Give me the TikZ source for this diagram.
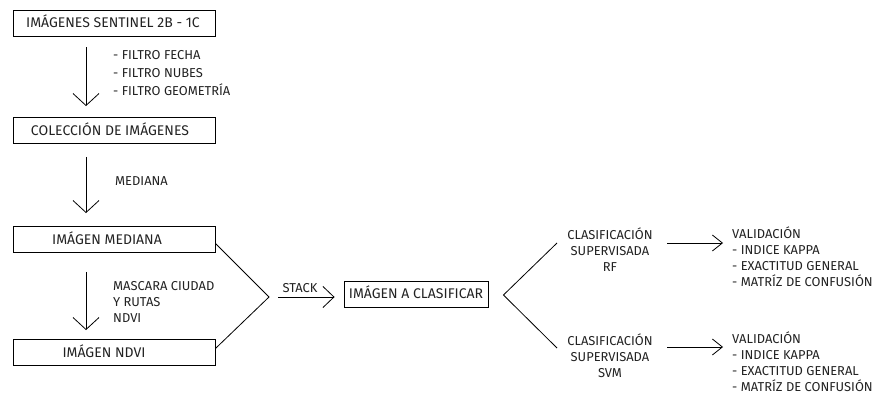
\documentclass[tikz,border=0pt]{standalone}
\usepackage{fontspec}
\setmainfont{Fira Sans}
\usetikzlibrary{arrows.meta}
\definecolor{txtc}{HTML}{222222}
\begin{document}
\begin{tikzpicture}[x=1pt,y=-1pt,
  box/.style={draw=black, line width=0.9pt, minimum width=202pt, minimum height=26pt, inner sep=0pt},
  box5/.style={draw=black, line width=0.9pt, minimum width=144pt, minimum height=26pt, inner sep=0pt},
  btxt/.style={font=\fontsize{14}{16}\selectfont, inner sep=0pt, text=txtc, text height=9.7pt, text depth=0pt},
  lbl/.style={font=\fontsize{12.9}{16}\selectfont, inner sep=0pt, text=txtc},
  ln/.style={line width=0.8pt, draw=black},
  arrv/.style={ln, -{Straight Barb[length=12pt,width=26pt]}},
  arrm/.style={ln, -{Straight Barb[length=11pt,width=21pt]}},
  arrs/.style={ln, -{Straight Barb[length=10pt,width=16pt]}}]
\useasboundingbox (0,0) rectangle (875,394);
% boxes
\node[box] (b1) at (114,23) {};
\node[btxt] (t1) at (113,23) {IMÁGENES SENTINEL 2B - 1C};
\node[box] (b2) at (114,130.5) {};
\node[btxt] (t2) at (110,130.5) {COLECCIÓN DE IMÁGENES};
\node[box] (b3) at (114,239.5) {};
\node[btxt] (t3) at (107,239.5) {IMÁGEN MEDIANA};
\node[box] (b4) at (114,352.5) {};
\node[btxt] (t4) at (104,352.5) {IMÁGEN NDVI};
\node[box5] (b5) at (416,294) {};
\node[btxt] (t5) at (416,294) {IMÁGEN A CLASIFICAR};
% labels
\node[lbl, align=left, anchor=west] (f1) at (113,73) {- FILTRO FECHA\\[2pt]- FILTRO NUBES\\[2pt]- FILTRO GEOMETRÍA};
\node[lbl, anchor=west] (f2) at (115,181) {MEDIANA};
\node[lbl, align=left, anchor=west] (f3) at (113,302) {MASCARA CIUDAD\\Y RUTAS\\NDVI};
\node[lbl, align=center] (c1) at (610,249.5) {CLASIFICACIÓN\\SUPERVISADA\\RF};
\node[lbl, align=center] (c2) at (610,355.5) {CLASIFICACIÓN\\SUPERVISADA\\SVM};
\node[lbl, align=left, anchor=west] (v1) at (732,257) {VALIDACIÓN\\- INDICE KAPPA\\- EXACTITUD GENERAL\\- MATRÍZ DE CONFUSIÓN};
\node[lbl, align=left, anchor=west] (v2) at (732,362) {VALIDACIÓN\\- INDICE KAPPA\\- EXACTITUD GENERAL\\- MATRÍZ DE CONFUSIÓN};
% vertical arrows
\draw[arrv] ([shift={(-28,11)}]b1.south) -- ([shift={(-28,-11)}]b2.north);
\draw[arrv] ([shift={(-28,13)}]b2.south) -- ([shift={(-28,-13)}]b3.north);
\draw[arrv] ([shift={(-28,19)}]b3.south) -- ([shift={(-28,-9)}]b4.north);
% merge
\coordinate (m) at (269,297);
\draw[ln, line join=miter] ([shift={(0,4)}]b3.east) -- (m) -- ([shift={(0,-4)}]b4.east);
\draw[arrm] ([shift={(9,0)}]m) -- ([xshift=-9pt]m -| b5.west) node[lbl, pos=0.39, anchor=base, yshift=4.5pt] (st) {STACK};
% branch
\coordinate (m2) at ([shift={(15,1)}]b5.east);
\draw[ln] ([shift={(-53,-6.5)}]c1.center) -- (m2) -- ([shift={(-53,-7.5)}]c2.center);
% right arrows
\coordinate (a1) at ([shift={(57,-6.5)}]c1.center);
\coordinate (a2) at ([shift={(57,-8.5)}]c2.center);
\draw[arrs] (a1) -- ([xshift=-9pt]a1 -| v1.west);
\draw[arrs] (a2) -- ([xshift=-9pt]a2 -| v2.west);
\end{tikzpicture}
\end{document}
